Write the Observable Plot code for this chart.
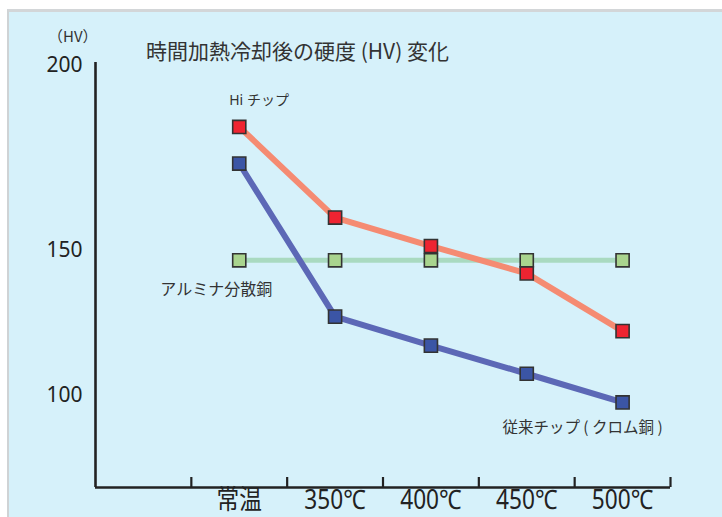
<!DOCTYPE html>
<html>
<head>
<meta charset="utf-8">
<script src="https://cdn.jsdelivr.net/npm/d3@7"></script>
<script src="https://cdn.jsdelivr.net/npm/@observablehq/plot@0.6"></script>
<style>
  html, body { margin: 0; padding: 0; background: #ffffff; }
  #wrap { position: relative; width: 722px; height: 517px; overflow: hidden; }
  #panel { position: absolute; left: 7px; top: 9px; right: 0; bottom: 0;
           background: #d6f1fa; border-left: 2px solid #cfd3d5; border-top: 3px solid #d3d6d8; }
  #chart { position: absolute; left: 0; top: 0; }
  .lbl { position: absolute; color: #333; font-family: "Noto Sans CJK JP", "Noto Sans", sans-serif; white-space: nowrap; }
  #title { left: 146px; top: 35px; font-size: 21px; }
  #unit { left: 48px; top: 25px; font-size: 15px; }
</style>
</head>
<body>
<div id="wrap">
  <div id="panel"></div>
  <div id="chart"></div>
  <div class="lbl" id="unit">（HV）</div>
  <div class="lbl" id="title">時間加熱冷却後の硬度 (HV) 変化</div>
</div>
<script>
// ---- data ----
const categories = ["常温", "350℃", "400℃", "450℃", "500℃"];
const hiChip   = [183.4, 158.9, 151.2, 142.1, 122.2];   // Hi チップ
const alumina  = [146.6, 146.6, 146.6, 146.6, 146.6];   // アルミナ分散銅
const chromium = [173.5, 127.2, 117.2, 107.5, 97.6];    // 従来チップ (クロム銅)
const yTicks = [100, 150, 200];

// ---- build tables ----
const toRows = vals => vals.map((v, i) => ({cat: categories[i], x: i + 1.5, y: v}));
const red = toRows(hiChip);
const green = toRows(alumina);
const blue = toRows(chromium);
const bandEdges = d3.range(1, categories.length + 2);
const bandCenters = categories.map((c, i) => i + 1.5);

// y scale is piecewise in the original artwork
const yDomain = [68.3, 100, 150, 200.8];
const yRange = [487, 395, 250, 62];

const sq = {symbol: "square", r: 7.4, stroke: "#333", strokeWidth: 1.6};

const plot = Plot.plot({
  width: 722,
  height: 517,
  marginLeft: 95,
  marginRight: 52,
  marginTop: 62,
  marginBottom: 30,
  style: {background: "transparent", fontFamily: "'Noto Sans', 'Noto Sans CJK JP', sans-serif", color: "#222"},
  x: {type: "linear", domain: [0, categories.length + 1], label: null},
  y: {type: "linear", domain: yDomain, range: yRange, label: null},
  marks: [
    // axis lines
    Plot.ruleY([yDomain[0]], {stroke: "#222", strokeWidth: 2.6}),
    Plot.ruleX([0], {stroke: "#222", strokeWidth: 2.6}),
    // tick marks at band edges (upward)
    Plot.axisX({ticks: bandEdges, tickSize: 10, dy: -10, tickFormat: () => "", label: null, stroke: "#222", strokeWidth: 2.2}),
    // category labels
    Plot.axisX({ticks: bandCenters, tickSize: 0, tickPadding: 2, label: null,
      tickFormat: d => categories[Math.round(d - 1.5)],
      fontSize: 27, fontFamily: "'Noto Sans', 'Noto Sans CJK JP', sans-serif", fill: "#222"}),
    Plot.axisY({ticks: yTicks, tickSize: 0, tickPadding: 13, fontSize: 21, fill: "#222", label: null}),
    // lines
    Plot.line(green, {x: "x", y: "y", stroke: "#a9dac0", strokeWidth: 5}),
    Plot.line(red, {x: "x", y: "y", stroke: "#f58b72", strokeWidth: 6}),
    Plot.line(blue, {x: "x", y: "y", stroke: "#5c68b6", strokeWidth: 6}),
    // markers
    Plot.dot(green, {x: "x", y: "y", fill: "#a9d48e", ...sq}),
    Plot.dot(red, {x: "x", y: "y", fill: "#ee2431", ...sq}),
    Plot.dot(blue, {x: "x", y: "y", fill: "#3b55a5", ...sq}),
    // series labels
    Plot.text([red[0]], {x: "x", y: "y", text: () => "Hi チップ", dx: -10, dy: -26, textAnchor: "start",
      fontSize: 14, fill: "#333", fontFamily: "'Noto Sans', 'Noto Sans CJK JP', sans-serif"}),
    Plot.text([green[0]], {x: "x", y: "y", text: () => "アルミナ分散銅", dx: -23, dy: 30,
      fontSize: 16, fill: "#333", fontFamily: "'Noto Sans CJK JP', sans-serif"}),
    Plot.text([blue[blue.length - 1]], {x: "x", y: "y", text: () => "従来チップ ( クロム銅 )", dx: -40, dy: 26,
      fontSize: 15.5, fill: "#333", fontFamily: "'Noto Sans CJK JP', sans-serif"})
  ]
});
document.getElementById("chart").appendChild(plot);
// condense the category labels horizontally, like the original's narrow type
d3.select(plot).selectAll("text")
  .filter(function() { return categories.includes(this.textContent); })
  .each(function() {
    const t = this.getAttribute("transform");
    if (t) {
      this.setAttribute("transform", t + " scale(0.84,1)");
    } else {
      const x = +(this.getAttribute("x") || 0);
      this.setAttribute("transform", `translate(${x},0) scale(0.84,1) translate(${-x},0)`);
    }
  });
</script>
</body>
</html>
